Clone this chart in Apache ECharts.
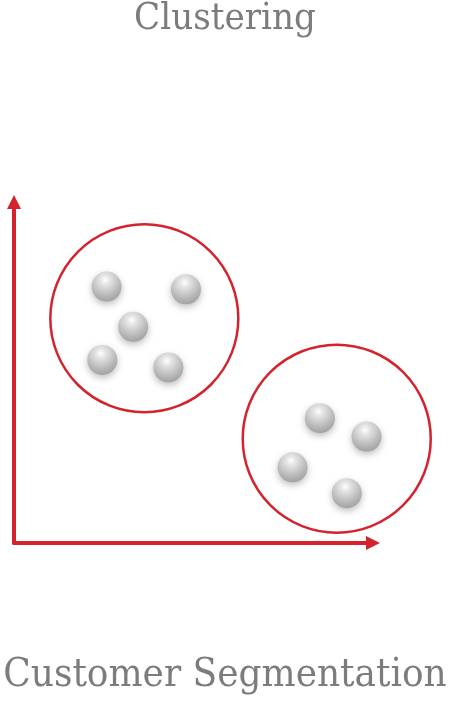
<!DOCTYPE html>
<html>
<head>
<meta charset="utf-8">
<title>Clustering</title>
<script src="https://cdn.jsdelivr.net/npm/echarts@6/dist/echarts.min.js"></script>
<style>
    html, body { margin: 0; padding: 0; background: #fff; }
    #main { width: 450px; height: 706px; }
</style>
</head>
<body>
<div id="main"></div>
<script>
// 数据：两组客户点（坐标轴 0-100 的单位）
var clusterA = [[25.8, 75.2], [47.9, 74.4], [33.2, 63.4], [24.6, 53.7], [43.0, 51.5]];
var clusterB = [[85.2, 36.6], [98.2, 31.2], [77.6, 22.2], [92.7, 14.6]];
// 两个圈的圆心
var clusterCenters = [[36.3, 65.9], [89.9, 30.6]];
var titleText = "Clustering";
var footerText = "Customer Segmentation";

var red = "#d4232c";
var textGray = "#7c7c7c";
var font = "'DejaVu Serif Condensed', 'DejaVu Serif', serif";

(function () {
    var myChart = echarts.init(document.getElementById("main"));

    // 球的样式：径向渐变 + 阴影（scatter 默认透明度 0.8，这里改成 1）
    var ballStyle = {
        opacity: 1,
        color: {
            type: "radial",
            x: 0.45, y: 0.28, r: 0.8,
            colorStops: [
                { offset: 0, color: "#ffffff" },
                { offset: 0.2, color: "#e4e4e4" },
                { offset: 0.65, color: "#b8b8b8" },
                { offset: 1, color: "#999999" }
            ]
        },
        shadowBlur: 7,
        shadowOffsetY: 3,
        shadowColor: "rgba(0,0,0,0.25)"
    };

    var option = {
        animation: false,
        title: [
            {
                text: titleText,
                left: "center",
                top: 0,
                padding: 0,
                textStyle: { fontFamily: font, fontSize: 38, fontWeight: "normal", color: textGray }
            },
            {
                text: footerText,
                left: "center",
                top: 656,
                padding: 0,
                textStyle: { fontFamily: font, fontSize: 40, fontWeight: "normal", color: textGray }
            }
        ],
        grid: {
            left: 14,
            right: 77,
            top: 202,
            bottom: 163,
            containLabel: false
        },
        xAxis: {
            type: "value",
            min: 0,
            max: 100,
            axisLine: {
                show: true,
                symbol: ["none", "triangle"],
                symbolSize: [14, 14],
                lineStyle: { color: red, width: 4 }
            },
            axisTick: { show: false },
            axisLabel: { show: false },
            splitLine: { show: false }
        },
        yAxis: {
            type: "value",
            min: 0,
            max: 100,
            axisLine: {
                show: true,
                symbol: ["none", "triangle"],
                symbolSize: [14, 14],
                lineStyle: { color: red, width: 4 }
            },
            axisTick: { show: false },
            axisLabel: { show: false },
            splitLine: { show: false }
        },
        series: [
            {
                name: "圈",
                type: "scatter",
                data: clusterCenters,
                symbolSize: 188,
                silent: true,
                itemStyle: {
                    opacity: 1,
                    color: "rgba(0,0,0,0)",
                    borderColor: red,
                    borderWidth: 2.5
                },
                z: 1
            },
            {
                name: "A",
                type: "scatter",
                data: clusterA,
                symbolSize: 30,
                itemStyle: ballStyle,
                z: 2
            },
            {
                name: "B",
                type: "scatter",
                data: clusterB,
                symbolSize: 30,
                itemStyle: ballStyle,
                z: 2
            }
        ]
    };
    myChart.setOption(option);
    window.addEventListener("resize", function () {
        myChart.resize();
    });
})();
</script>
</body>
</html>
